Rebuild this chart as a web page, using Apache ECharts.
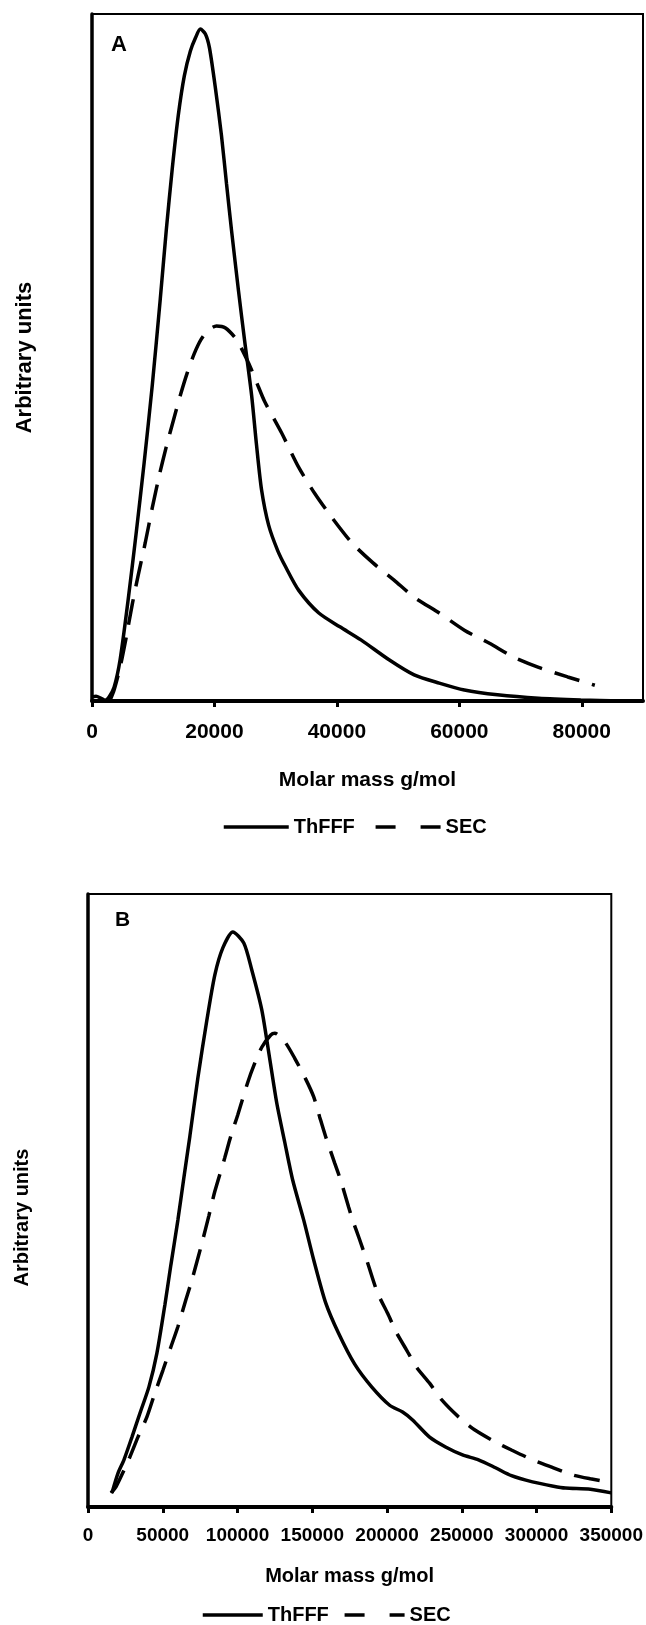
<!DOCTYPE html>
<html>
<head>
<meta charset="utf-8">
<script src="https://cdn.jsdelivr.net/npm/echarts@6.0.0/dist/echarts.min.js"></script>
<style>
  html, body { margin: 0; padding: 0; background: #fff; }
  #chart { width: 646px; height: 1625px; }
</style>
</head>
<body>
<div id="chart"></div>
<script>
// ---------- Data ----------
// Panel A
const aThfffMass   = [0, 660, 1480, 2130, 2790, 3610, 4590, 5900, 7210, 8520, 9840, 11150, 12130, 13110, 14100, 15080, 16070, 16890, 17700, 18520, 19180, 20160, 21150, 21970, 22790, 23930, 24920, 26070, 26880, 27700, 28850, 30330, 31640, 33770, 37050, 40490, 43930, 48520, 52620, 56720, 60820, 66230, 72950, 79840, 86560];
const aThfffSignal = [0.6, 0.7, 0.4, 0.1, 0.6, 2.0, 6.0, 14.7, 24.4, 34.7, 45.9, 58.5, 68.5, 77.5, 85.3, 91.0, 94.6, 96.5, 97.8, 97.1, 95.1, 89.2, 82.3, 75.3, 68.5, 59.7, 52.5, 44.5, 37.2, 30.7, 25.6, 21.9, 19.5, 16.1, 12.8, 10.8, 8.9, 6.0, 3.8, 2.6, 1.6, 0.9, 0.4, 0.15, 0];
const aSecMass   = [2950, 3610, 4590, 5570, 6560, 7540, 8690, 9840, 10980, 12130, 13280, 14430, 15570, 16720, 17870, 19020, 20330, 21800, 23610, 25570, 26880, 28200, 30980, 33770, 36390, 39180, 42460, 45900, 49340, 52620, 56720, 60820, 64920, 68850, 72950, 77700, 82130];
const aSecSignal = [0.1, 1.6, 4.9, 9.2, 14.0, 18.3, 23.0, 28.1, 32.8, 37.0, 40.8, 44.5, 47.8, 50.6, 52.7, 54.0, 54.6, 54.3, 52.6, 49.2, 46.4, 43.6, 39.0, 34.0, 30.2, 26.7, 23.0, 20.1, 17.6, 15.1, 12.8, 10.3, 8.4, 6.4, 4.9, 3.5, 2.3];

// Panel B
const bThfffMass   = [16030, 20040, 24050, 29390, 34740, 40750, 46090, 51440, 55440, 60120, 64000, 68140, 73480, 79490, 84840, 90180, 96860, 104200, 109550, 116230, 120910, 126250, 131600, 136940, 144290, 150970, 158980, 167670, 178360, 189710, 201740, 210420, 217100, 228460, 239140, 250500, 261190, 272540, 283230, 297260, 311290, 319300, 336000, 350000];
const bThfffSignal = [2.3, 5.5, 7.7, 11.4, 15.3, 19.6, 25.1, 33.0, 39.5, 46.8, 53.5, 60.5, 70.0, 79.4, 86.8, 91.2, 93.8, 92.0, 87.6, 81.1, 74.1, 65.9, 59.5, 53.3, 46.8, 40.3, 33.3, 28.3, 23.3, 19.6, 16.6, 15.5, 14.2, 11.4, 9.8, 8.5, 7.7, 6.4, 5.1, 4.1, 3.4, 3.1, 2.9, 2.3];
const bSecMass   = [15360, 18700, 24050, 28060, 33400, 39410, 44760, 50100, 55440, 60120, 65460, 69470, 76150, 80830, 84840, 91520, 95520, 100200, 106880, 110890, 116230, 122240, 124920, 131600, 138280, 145620, 150970, 154980, 158980, 165000, 169000, 174350, 177020, 181700, 187040, 193720, 200400, 206410, 213090, 219770, 228460, 236470, 247830, 258520, 272540, 283230, 297260, 311290, 324650, 336000, 350000];
const bSecSignal = [2.3, 3.3, 6.0, 8.2, 11.4, 14.7, 18.6, 22.3, 26.1, 29.4, 33.8, 37.0, 43.0, 47.5, 51.5, 57.0, 60.5, 64.0, 69.3, 72.0, 75.0, 77.0, 77.3, 75.9, 73.2, 69.8, 66.9, 63.6, 60.4, 56.1, 53.3, 48.9, 46.8, 43.6, 39.8, 34.9, 31.6, 28.4, 25.6, 22.8, 20.2, 17.5, 14.7, 12.6, 10.6, 9.3, 7.7, 6.4, 5.2, 4.6, 4.0];

const seriesNames = ['ThFFF', 'SEC'];
const panelLabels = ['A', 'B'];
const xAxisTitle = 'Molar mass g/mol';
const yAxisTitle = 'Arbitrary units';

// ---------- Helpers ----------
const FONT = '"Liberation Sans", Arial, Helvetica, sans-serif';
function zip(xs, ys) { return xs.map((x, i) => [x, ys[i]]); }

const chart = echarts.init(document.getElementById('chart'), null, { renderer: 'canvas' });

function xAxisCfg(gridIndex, max, interval, fontSize, margin, nameGap, nameSize) {
  return {
    type: 'value', gridIndex, min: 0, max, interval,
    name: xAxisTitle, nameLocation: 'middle', nameGap,
    nameTextStyle: { fontFamily: FONT, fontWeight: 'bold', fontSize: nameSize, color: '#000' },
    axisLine: { show: true, lineStyle: { color: '#000', width: 4 } },
    axisTick: { show: true, inside: false, length: 6, lineStyle: { color: '#000', width: 3 } },
    axisLabel: {
      show: true, margin, showMaxLabel: max % interval === 0,
      formatter: v => String(v),
      fontFamily: FONT, fontWeight: 'bold', fontSize, color: '#000'
    },
    splitLine: { show: false }
  };
}
function yAxisCfg(gridIndex, nameGap, nameSize, padding) {
  return {
    type: 'value', gridIndex, min: 0, max: 100,
    name: yAxisTitle, nameLocation: 'middle', nameGap,
    nameTextStyle: { fontFamily: FONT, fontWeight: 'bold', fontSize: nameSize, color: '#000', padding },
    axisLine: { show: true, lineStyle: { color: '#000', width: 3.5 } },
    axisTick: { show: false },
    axisLabel: { show: false },
    splitLine: { show: false }
  };
}
function lineSeries(name, data, idx, dashed) {
  return {
    name, type: 'line', xAxisIndex: idx, yAxisIndex: idx,
    data, symbol: 'none', showSymbol: false, smooth: 0.25,
    lineStyle: { color: '#000', width: 3.5, type: dashed ? [26, 13] : 'solid' },
    itemStyle: { color: '#000' },
    emphasis: { disabled: true },
    z: dashed ? 3 : 4
  };
}
function legendCfg(left, top, itemWidth, itemGap) {
  return {
    left, top, orient: 'horizontal', selectedMode: false,
    itemWidth, itemHeight: 14, itemGap, itemTextGap: 4,
    itemStyle: { color: 'rgba(0,0,0,0)', borderWidth: 0, opacity: 0 },
    lineStyle: { color: '#000', width: 3.5 },
    data: [
      { name: seriesNames[0], lineStyle: { type: 'solid', width: 3.5, color: '#000' } },
      { name: seriesNames[1], lineStyle: { type: [20, 25], width: 3.5, color: '#000' } }
    ],
    textStyle: { fontFamily: FONT, fontWeight: 'bold', fontSize: 20, color: '#000' }
  };
}

chart.setOption({
  animation: false,
  backgroundColor: '#fff',
  grid: [
    { left: 92, top: 14, width: 551, height: 687, show: true, borderColor: '#000', borderWidth: 2, backgroundColor: 'transparent', containLabel: false },
    { left: 88, top: 894, width: 524, height: 613, show: true, borderColor: '#000', borderWidth: 2, backgroundColor: 'transparent', containLabel: false }
  ],
  xAxis: [
    xAxisCfg(0, 90000, 20000, 21, 21, 69, 21),
    xAxisCfg(1, 350000, 50000, 19, 19, 59, 20)
  ],
  yAxis: [
    yAxisCfg(0, 56, 22, [0, 0, 0, 0]),
    yAxisCfg(1, 56, 20, [0, 34, 0, 0])
  ],
  legend: [
    legendCfg(217, 812, 65, 19),
    legendCfg(196, 1600, 60, 14)
  ],
  graphic: [
    { type: 'text', left: 111, top: 34, style: { text: panelLabels[0], font: 'bold 22px ' + FONT, fill: '#000' } },
    { type: 'text', left: 115, top: 910, style: { text: panelLabels[1], font: 'bold 21px ' + FONT, fill: '#000' } }
  ],
  series: [
    lineSeries(seriesNames[0], zip(aThfffMass, aThfffSignal), 0, false),
    lineSeries(seriesNames[1], zip(aSecMass, aSecSignal), 0, true),
    lineSeries(seriesNames[0], zip(bThfffMass, bThfffSignal), 1, false),
    lineSeries(seriesNames[1], zip(bSecMass, bSecSignal), 1, true)
  ]
});
</script>
</body>
</html>
